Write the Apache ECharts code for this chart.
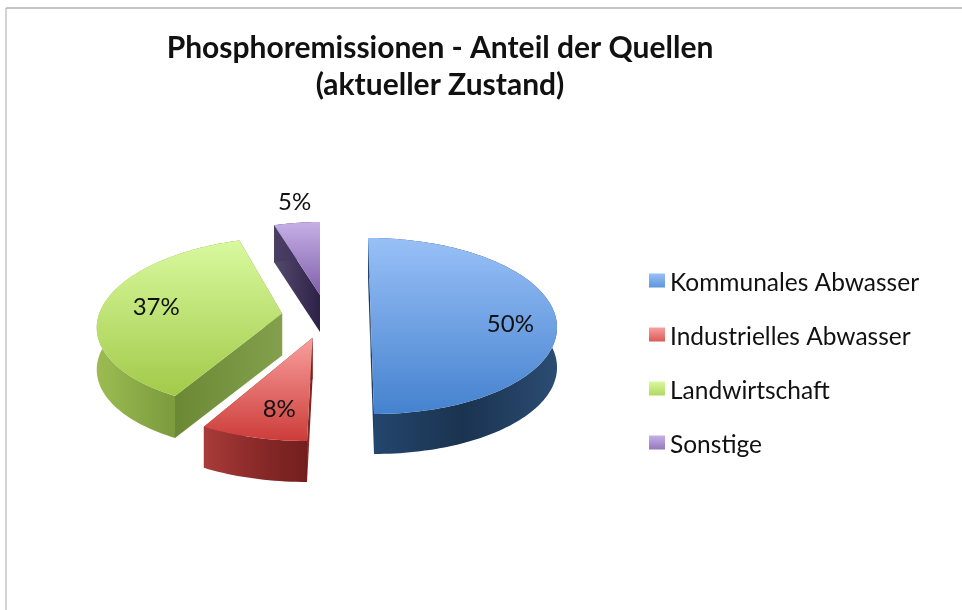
<!DOCTYPE html>
<html lang="de">
<head>
<meta charset="utf-8">
<title>Phosphoremissionen</title>
<script src="https://cdn.jsdelivr.net/npm/echarts@6/dist/echarts.min.js"></script>
<style>
  html, body { margin: 0; padding: 0; background: #fff; }
  #chart { width: 962px; height: 610px; }
</style>
</head>
<body>
<div id="chart"></div>
<script>
const categories = ['Kommunales Abwasser', 'Industrielles Abwasser', 'Landwirtschaft', 'Sonstige']
const shares = [50, 8, 37, 5]

// ellipse of each exploded slice, the library has no 3d pie so it is projected here
const sliceLayout = [
  { xc: 371, yc: 326, rx: 186, ry: 88, skew: -3, depth: 40, labelR: 0.75, labelDx: 1, labelDy: 8 },
  { xc: 312, yc: 348, rx: 196, ry: 93, skew: 5, depth: 41, labelR: 0.62, labelDx: 2, labelDy: 12 },
  { xc: 281, yc: 323, rx: 184, ry: 86, skew: 10, depth: 42, labelR: 0.7, labelDx: 0, labelDy: -1 },
  { xc: 320, yc: 304, rx: 165, ry: 82, skew: 0, depth: 37, labelR: 1.26, labelDx: 3, labelDy: -4 }
]
const perspective = 0.11

const grad = (x2, y2, stops) => ({
  type: 'linear', x: 0, y: 0, x2, y2,
  colorStops: stops.map((c, i) => ({ offset: i / (stops.length - 1), color: c }))
})

const sliceColors = [
  { top: ['#98c0f7', '#4582cf'], rim: ['#25476f', '#1a3350', '#2b4c72'], cut: ['#1f3d60', '#1f3d60'] },
  { top: ['#f9a09e', '#cc3c39'], rim: ['#a83c3a', '#8a2a29', '#721f1e'], cut: ['#8a2c2b', '#732120'] },
  { top: ['#d8f99e', '#a2ca49'], rim: ['#9cbc52', '#7d9d3f', '#6f8d37'], cut: ['#6b8934', '#83a04c'] },
  { top: ['#c6b0e6', '#7f5fab'], rim: ['#4a3f63', '#3a2c55'], cut: ['#544a6c', '#2e2148'] }
]

// cumulative angles, clockwise from 12 o'clock
const total = shares.reduce((a, b) => a + b, 0)
const angleRanges = []
shares.reduce((sum, v) => {
  angleRanges.push([sum / total * Math.PI * 2, (sum + v) / total * Math.PI * 2])
  return sum + v
}, 0)

// point on the unit disc -> screen, the moebius step moves the centre up like a perspective would
const project = (g, angle, r) => {
  const u = r * Math.sin(angle)
  const v = r * Math.cos(angle)
  const d = 1 + perspective * v
  const vp = (v + perspective) / d
  const up = u * Math.sqrt(1 - perspective * perspective) / d
  return [g.xc + g.rx * up + g.skew * vp, g.yc - g.ry * vp]
}

const down = (p, depth) => [p[0], p[1] + depth]

const renderSlice = index => (params, api) => {
  const g = sliceLayout[index]
  const c = sliceColors[index]
  const [a0, a1] = angleRanges[index]
  const steps = Math.max(8, Math.round((a1 - a0) * 40))
  const arc = []
  for (let i = 0; i <= steps; i++) {
    arc.push(project(g, a0 + (a1 - a0) * i / steps, 1))
  }
  const apex = project(g, 0, 0)
  const first = arc[0]
  const last = arc[arc.length - 1]

  const wall = pts => ({ type: 'polygon', shape: { points: pts }, style: { fill: grad(1, 0, c.cut) } })
  const children = [
    wall([apex, last, down(last, g.depth), down(apex, g.depth)]),
    wall([apex, first, down(first, g.depth), down(apex, g.depth)]),
    {
      type: 'polygon',
      shape: { points: arc.concat(arc.map(p => down(p, g.depth)).reverse()) },
      style: { fill: grad(1, 0, c.rim) }
    },
    {
      type: 'polygon',
      shape: { points: [apex].concat(arc) },
      style: { fill: grad(0, 1, c.top) }
    }
  ]

  const mid = project(g, (a0 + a1) / 2, g.labelR)
  children.push({
    type: 'text',
    style: {
      text: api.value(0) + '%',
      x: mid[0] + g.labelDx,
      y: mid[1] + g.labelDy,
      align: 'center',
      verticalAlign: 'middle',
      fill: '#111',
      font: '24px Lato'
    }
  })
  return { type: 'group', children }
}

const chart = echarts.init(document.getElementById('chart'))

chart.setOption({
  animation: false,
  backgroundColor: '#fff',
  title: {
    text: 'Phosphoremissionen - Anteil der Quellen\n(aktueller Zustand)',
    left: 435,
    top: 25,
    textAlign: 'center',
    textStyle: {
      fontFamily: 'Lato',
      fontWeight: 'bold',
      fontSize: 30,
      lineHeight: 37,
      color: '#111'
    }
  },
  legend: {
    orient: 'vertical',
    left: 649,
    top: 271,
    padding: 0,
    itemWidth: 16,
    itemHeight: 20,
    itemGap: 29,
    // swatch sits in the upper part of the item, a little above the text middle
    icon: 'path://M0 0H16V14H0Z M0 20H16',
    selectedMode: false,
    textStyle: { fontFamily: 'Lato', fontSize: 24.5, color: '#111' },
    data: categories.map((name, i) => ({
      name,
      itemStyle: { color: grad(0, 1, sliceColors[i].top) }
    }))
  },
  graphic: [
    { type: 'line', shape: { x1: 6, y1: 8, x2: 962, y2: 8 }, style: { stroke: '#8c8c8c', lineWidth: 1 } },
    { type: 'line', shape: { x1: 6, y1: 8, x2: 6, y2: 610 }, style: { stroke: '#a8a8a8', lineWidth: 1 } }
  ],
  series: categories.map((name, i) => ({
    type: 'custom',
    name,
    coordinateSystem: 'none',
    renderItem: renderSlice(i),
    silent: true,
    data: [[shares[i]]]
  }))
})
</script>
</body>
</html>
